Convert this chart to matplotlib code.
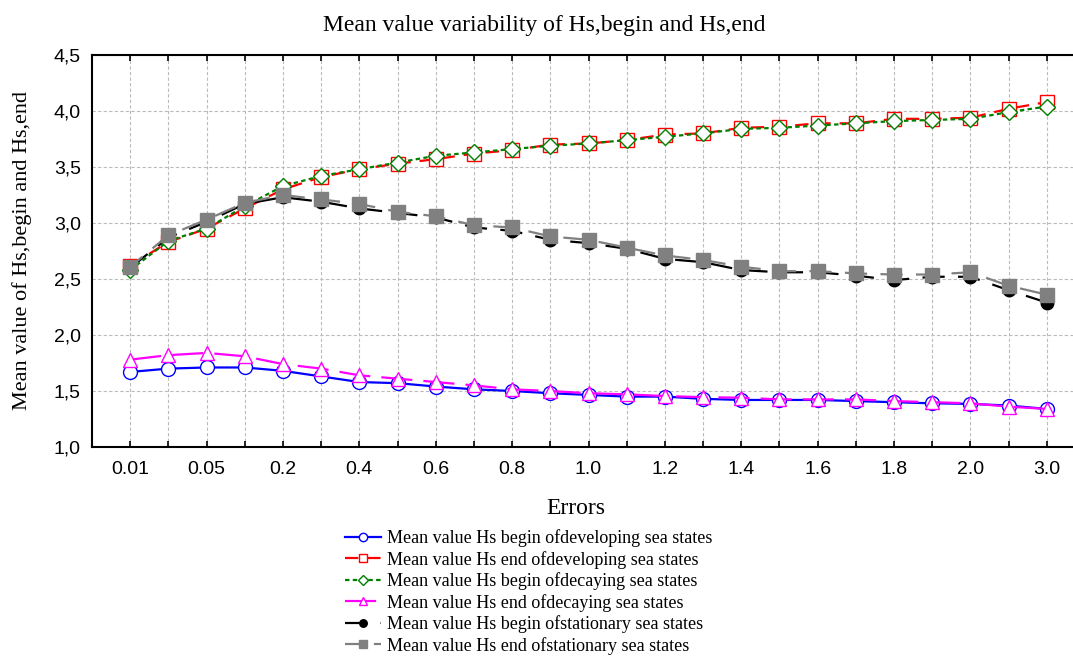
import numpy as np
import matplotlib
matplotlib.use("Agg")
import matplotlib.pyplot as plt

# Kategorije napak (x os)
errors = ['0.01', '0.03', '0.05', '0.1', '0.2', '0.3', '0.4', '0.5', '0.6', '0.7', '0.8', '0.9',
          '1.0', '1.1', '1.2', '1.3', '1.4', '1.5', '1.6', '1.7', '1.8', '1.9', '2.0', '2.5', '3.0']

# Povprecne vrednosti Hs
begin_developing = [1.67, 1.70, 1.71, 1.71, 1.68, 1.63, 1.58, 1.57, 1.54, 1.515, 1.50, 1.48, 1.465,
                    1.45, 1.45, 1.43, 1.42, 1.42, 1.42, 1.41, 1.40, 1.39, 1.385, 1.37, 1.34]
end_developing = [2.62, 2.83, 2.95, 3.13, 3.30, 3.41, 3.48, 3.53, 3.57, 3.62, 3.65, 3.70, 3.71,
                  3.74, 3.79, 3.80, 3.85, 3.86, 3.89, 3.89, 3.93, 3.93, 3.94, 4.02, 4.08]
begin_decaying = [2.58, 2.84, 2.95, 3.15, 3.33, 3.42, 3.48, 3.54, 3.60, 3.63, 3.66, 3.69, 3.71,
                  3.74, 3.77, 3.80, 3.84, 3.85, 3.87, 3.89, 3.91, 3.92, 3.93, 3.99, 4.04]
end_decaying = [1.78, 1.82, 1.84, 1.81, 1.74, 1.70, 1.64, 1.61, 1.58, 1.55, 1.515, 1.50, 1.48,
                1.47, 1.455, 1.445, 1.44, 1.425, 1.425, 1.425, 1.41, 1.40, 1.39, 1.36, 1.34]
begin_stationary = [2.60, 2.87, 3.01, 3.17, 3.23, 3.19, 3.13, 3.09, 3.05, 2.96, 2.93, 2.85, 2.82,
                    2.77, 2.68, 2.65, 2.58, 2.56, 2.56, 2.53, 2.49, 2.52, 2.52, 2.40, 2.29]
end_stationary = [2.61, 2.89, 3.03, 3.18, 3.25, 3.21, 3.17, 3.10, 3.06, 2.98, 2.96, 2.88, 2.85,
                  2.78, 2.71, 2.67, 2.61, 2.57, 2.57, 2.55, 2.54, 2.54, 2.56, 2.44, 2.36]

y_ticks = [1.0, 1.5, 2.0, 2.5, 3.0, 3.5, 4.0, 4.5]

serif = 'Liberation Serif'
sans = 'Liberation Sans'

fig = plt.figure(figsize=(10.73, 6.59), dpi=100)
# desni rob osi je izven slike (kot v originalu)
ax = fig.add_axes([92/1073, 1-447/659, (1085-92)/1073, (447-55)/659])

x = np.arange(len(errors))

ax.plot(x, begin_developing, color='blue', lw=1.6, ls='-', marker='o', ms=10,
        mfc='white', mec='blue', mew=1.0, label='Mean value Hs begin ofdeveloping sea states', zorder=3)
ax.plot(x, end_developing, color='red', lw=1.6, ls=(0, (6, 4)), marker='s', ms=10,
        mfc='white', mec='red', mew=1.0, label='Mean value Hs end ofdeveloping sea states', zorder=3)
ax.plot(x, begin_decaying, color='green', lw=1.6, ls=(0, (2, 1.5)), marker='D', ms=8,
        mfc='white', mec='green', mew=1.0, label='Mean value Hs begin ofdecaying sea states', zorder=4)
ax.plot(x, begin_stationary, color='black', lw=1.6, ls=(0, (10, 6)), marker='o', ms=9,
        mfc='black', mec='black', label='Mean value Hs begin ofstationary sea states', zorder=3)
ax.plot(x, end_stationary, color='gray', lw=1.6, ls=(3, (10, 6)), marker='s', ms=10,
        mfc='gray', mec='gray', label='Mean value Hs end ofstationary sea states', zorder=4)
ax.plot(x, end_decaying, color='magenta', lw=1.6, ls=(0, (14, 5)), marker='^', ms=10,
        mfc='white', mec='magenta', mew=1.0, label='Mean value Hs end ofdecaying sea states', zorder=4)

ax.set_xlim(-1, 25)
ax.set_ylim(1.0, 4.5)
ax.set_xticks(x)
ax.set_xticklabels([lab if i % 2 == 0 else '' for i, lab in enumerate(errors)],
                   fontfamily=sans, fontsize=14)
ax.set_yticks(y_ticks)
ax.set_yticklabels([f'{v:.1f}'.replace('.', ',') for v in y_ticks], fontfamily=sans, fontsize=14)
ax.tick_params(axis='x', direction='in', length=4, width=1.2, top=True, pad=10)
ax.tick_params(axis='y', direction='in', length=0, pad=8)

ax.grid(True, color='#bbbbbb', ls=(0, (3, 2)), lw=0.8)
ax.set_axisbelow(True)
for s in ax.spines.values():
    s.set_linewidth(1.5)

fig.text(544/1073, 1-25/659, 'Mean value variability of Hs,begin and Hs,end',
         ha='center', va='center', fontfamily=serif, fontsize=17)
fig.text(22/1073, 1-250/659, 'Mean value of Hs,begin and Hs,end', rotation=90,
         ha='center', va='center', fontfamily=serif, fontsize=16)
fig.text(576/1073, 1-508/659, 'Errors', ha='center', va='center', fontfamily=serif, fontsize=17)

handles, labels = ax.get_legend_handles_labels()
order = [0, 1, 2, 5, 3, 4]
fig.legend([handles[i] for i in order], [labels[i] for i in order],
           loc='upper left', bbox_to_anchor=(338/1073, 1-522/659), frameon=False,
           prop={'family': serif, 'size': 13}, labelspacing=0.2, handlelength=2.0,
           handletextpad=0.3, borderaxespad=0, markerscale=0.6)

fig.savefig('out.png', dpi=100)
